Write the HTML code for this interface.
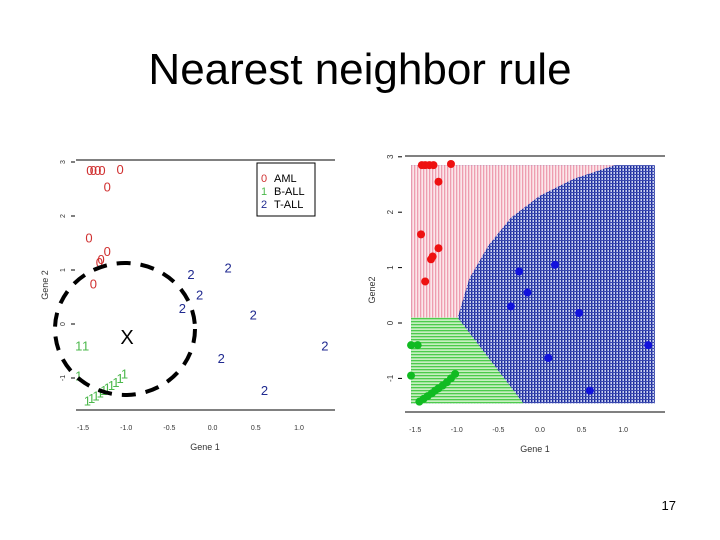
<!DOCTYPE html>
<html><head><meta charset="utf-8"><style>
body{margin:0;background:#fff;}
svg{display:block;font-family:"Liberation Sans",sans-serif;}
</style></head><body>
<svg width="720" height="540" viewBox="0 0 720 540">
<defs>
<pattern id="pinkPat" width="3" height="3" patternUnits="userSpaceOnUse"><rect width="3" height="3" fill="#fbe6ea"/><rect width="1.3" height="3" fill="#ee9db0"/></pattern>
<pattern id="bluePat" width="3" height="3" patternUnits="userSpaceOnUse"><rect width="3" height="3" fill="#c9d0f0"/><rect width="1.4" height="3" fill="#1a2a9a"/><rect width="3" height="1" fill="#3a48b0"/></pattern>
<pattern id="greenPat" width="3" height="3" patternUnits="userSpaceOnUse"><rect width="3" height="3" fill="#c6efc0"/><rect width="3" height="1.3" fill="#4ccb4c"/></pattern>
</defs>
<text x="360" y="84" text-anchor="middle" font-size="44" fill="#000">Nearest neighbor rule</text>
<text x="676" y="510" text-anchor="end" font-size="13">17</text>
<g id="left"></g>
<g id="right"></g>
</svg>
<script>
const redX=[-1.42,-1.38,-1.33,-1.28,-1.07,-1.22,-1.43,-1.22,-1.31,-1.29,-1.38];
const redY=[2.85,2.85,2.85,2.85,2.87,2.55,1.6,1.35,1.15,1.2,0.75];
const greenX=[-1.55,-1.47,-1.55,-1.45,-1.4,-1.35,-1.3,-1.26,-1.22,-1.17,-1.12,-1.07,-1.02];
const greenY=[-0.4,-0.4,-0.95,-1.42,-1.37,-1.32,-1.27,-1.22,-1.18,-1.13,-1.07,-1.0,-0.92];
const blueX=[-0.25,0.18,-0.15,-0.35,0.47,1.3,0.1,0.6];
const blueY=[0.93,1.05,0.55,0.3,0.18,-0.4,-0.63,-1.22];
const xTicks=[-1.5,-1.0,-0.5,0.0,0.5,1.0];
const xTickLabels=["-1.5","-1.0","-0.5","0.0","0.5","1.0"];
const yTicks=[-1,0,1,2,3];
const yTickLabels=["-1","0","1","2","3"];
const boundRB=[[-0.99,0.1],[-0.85,0.8],[-0.62,1.4],[-0.35,1.9],[0.0,2.3],[0.4,2.6],[0.9,2.85]];
const NS="http://www.w3.org/2000/svg";
function mk(p,t,a,txt){const e=document.createElementNS(NS,t);for(const k in a)e.setAttribute(k,a[k]);if(txt!==undefined)e.textContent=txt;p.appendChild(e);return e;}
const L=document.getElementById('left');
const lx=v=>212.6+v*86.4, ly=v=>324-v*54;
let e;
e=mk(L,'line',{x1:76,y1:160,x2:335,y2:160,stroke:'#000','stroke-width':1});

e=mk(L,'line',{x1:76,y1:410,x2:335,y2:410,stroke:'#000','stroke-width':1});

xTicks.forEach((t,i)=>{e=mk(L,'text',{x:lx(t),y:430,'font-size':7,'text-anchor':'middle',fill:'#333'},xTickLabels[i]);
});
yTicks.forEach((t,i)=>{mk(L,'line',{x1:71,y1:ly(t),x2:75,y2:ly(t),stroke:'#000'});
e=mk(L,'text',{x:0,y:0,'font-size':7,'text-anchor':'middle',fill:'#333',transform:`translate(65,${ly(t)}) rotate(-90)`},yTickLabels[i]);
});
e=mk(L,'text',{x:205,y:450,'font-size':9,'text-anchor':'middle',fill:'#333'},'Gene 1');

e=mk(L,'text',{x:0,y:0,'font-size':9,'text-anchor':'middle',fill:'#333',transform:'translate(48,285) rotate(-90)'},'Gene 2');

function lab(xs,ys,c,s){xs.forEach((x,i)=>{e=mk(L,'text',{x:lx(x),y:ly(ys[i])+5,'font-size':13,'text-anchor':'middle',fill:c},s);
});}
lab(redX,redY,'#d03030','0');lab(greenX,greenY,'#4cb84c','1');lab(blueX,blueY,'#202a90','2');
e=mk(L,'ellipse',{cx:125,cy:329,rx:70,ry:66,fill:'none',stroke:'#000','stroke-width':4,'stroke-dasharray':'14 10'});

e=mk(L,'text',{x:127,y:344,'font-size':20,'text-anchor':'middle',fill:'#000'},'X');

e=mk(L,'rect',{x:257,y:163,width:58,height:53,fill:'#fff',stroke:'#000','stroke-width':1});

[['0','AML','#d03030'],['1','B-ALL','#4cb84c'],['2','T-ALL','#202a90']].forEach((r,i)=>{
e=mk(L,'text',{x:261,y:182+i*13,'font-size':11,fill:r[2]},r[0]);

e=mk(L,'text',{x:274,y:182+i*13,'font-size':11,fill:'#000'},r[1]);
});
const R=document.getElementById('right');
const rx=v=>540+v*83.2, ry=v=>323-v*55.4;
const X0=-1.55,X1=1.38,Y0=-1.45,Y1=2.85;
e=mk(R,'rect',{x:rx(X0),y:ry(Y1),width:rx(X1)-rx(X0),height:ry(Y0)-ry(Y1),fill:'url(#bluePat)'});

let pd=`M${rx(X0)},${ry(0.1)} `+boundRB.map(p=>`L${rx(p[0])},${ry(p[1])}`).join(' ')+` L${rx(X0)},${ry(Y1)} Z`;
e=mk(R,'path',{d:pd,fill:'url(#pinkPat)'});

e=mk(R,'path',{d:`M${rx(X0)},${ry(0.1)} L${rx(-0.99)},${ry(0.1)} L${rx(-0.2)},${ry(Y0)} L${rx(X0)},${ry(Y0)} Z`,fill:'url(#greenPat)'});

e=mk(R,'line',{x1:405,y1:156,x2:665,y2:156,stroke:'#000'});

e=mk(R,'line',{x1:405,y1:412,x2:665,y2:412,stroke:'#000'});

xTicks.forEach((t,i)=>{e=mk(R,'text',{x:rx(t),y:432,'font-size':7,'text-anchor':'middle',fill:'#333'},xTickLabels[i]);
});
yTicks.forEach((t,i)=>{mk(R,'line',{x1:398,y1:ry(t),x2:402,y2:ry(t),stroke:'#000'});
e=mk(R,'text',{x:0,y:0,'font-size':8,'text-anchor':'middle',fill:'#333',transform:`translate(393,${ry(t)}) rotate(-90)`},yTickLabels[i]);
});
e=mk(R,'text',{x:535,y:452,'font-size':9,'text-anchor':'middle',fill:'#333'},'Gene 1');

e=mk(R,'text',{x:0,y:0,'font-size':9,'text-anchor':'middle',fill:'#333',transform:'translate(375,290) rotate(-90)'},'Gene2');

function dots(xs,ys,c,n){xs.forEach((x,i)=>{e=mk(R,'circle',{cx:rx(x),cy:ry(ys[i]),r:4,fill:c});
});}
dots(redX,redY,'#ee1111','aml-point');dots(greenX,greenY,'#11bb22','b-all-point');dots(blueX,blueY,'#1111dd','t-all-point');
</script>
</body></html>
